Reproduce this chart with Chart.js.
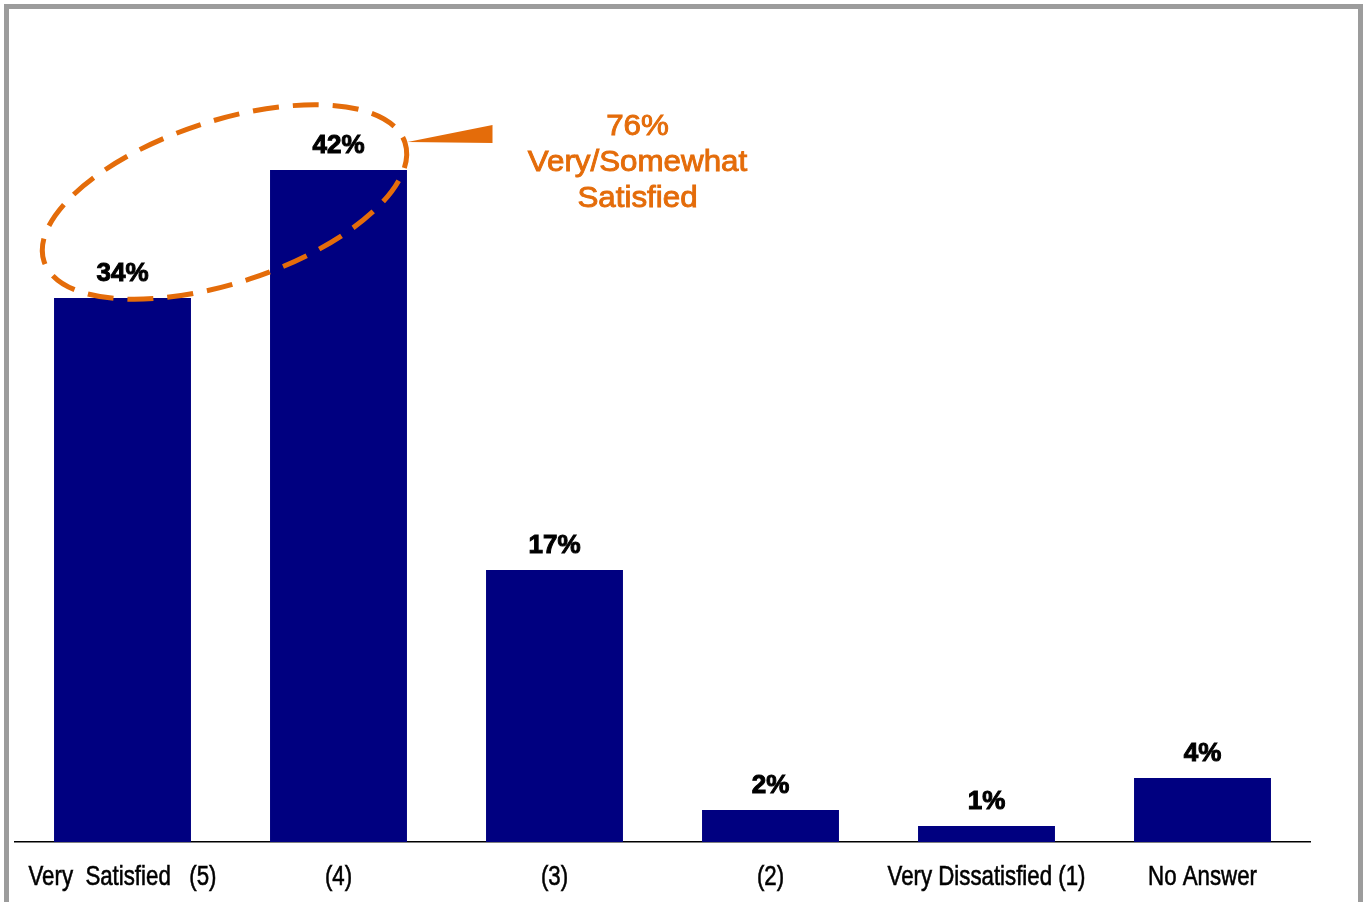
<!DOCTYPE html>
<html>
<head>
<meta charset="utf-8">
<script src="https://cdn.jsdelivr.net/npm/chart.js@4/dist/chart.umd.min.js"></script>
<style>
  html, body { margin: 0; padding: 0; background: #fff; overflow: hidden; }
  #frame {
    position: absolute; left: 4px; top: 4px; width: 1349px; height: 920px;
    border: 5px solid #9c9c9c; box-sizing: content-box;
  }
  #wrap { position: absolute; left: 0; top: 0; width: 1366px; height: 902px; }
</style>
</head>
<body>
<div id="frame"></div>
<div id="wrap"><canvas id="c" width="1366" height="902"></canvas></div>
<script>
// Satisfaction ratings, share of respondents (%)
const categories = ['Very  Satisfied   (5)', '(4)', '(3)', '(2)', 'Very Dissatisfied (1)', 'No Answer'];
const percentages = [34, 42, 17, 2, 1, 4];
const valueLabels = ['34%', '42%', '17%', '2%', '1%', '4%'];
const calloutLines = ['76%', 'Very/Somewhat', 'Satisfied'];

const NAVY = '#000080';
const ORANGE = '#E46C0A';

// Bar value labels above each bar
const valueLabelPlugin = {
  id: 'valueLabels',
  afterDatasetsDraw(chart) {
    const ctx = chart.ctx;
    const meta = chart.getDatasetMeta(0);
    ctx.save();
    ctx.font = 'bold 26px "Liberation Sans", Arial, sans-serif';
    ctx.fillStyle = '#000';
    ctx.strokeStyle = '#000';
    ctx.lineWidth = 1;
    ctx.textAlign = 'center';
    ctx.textBaseline = 'alphabetic';
    meta.data.forEach((bar, i) => {
      ctx.fillText(valueLabels[i], bar.x, bar.y - 17);
      ctx.strokeText(valueLabels[i], bar.x, bar.y - 17);
    });
    ctx.restore();
  }
};

// Condensed category labels under the axis
const categoryLabelPlugin = {
  id: 'categoryLabels',
  afterDraw(chart) {
    const ctx = chart.ctx;
    const xs = chart.scales.x;
    const squeeze = 0.795;
    ctx.save();
    ctx.font = '28px "Liberation Sans", Arial, sans-serif';
    ctx.fillStyle = '#000';
    ctx.strokeStyle = '#000';
    ctx.lineWidth = 0.6;
    ctx.textAlign = 'center';
    ctx.textBaseline = 'middle';
    categories.forEach((label, i) => {
      const x = xs.getPixelForValue(i);
      ctx.save();
      ctx.translate(x, xs.bottom - 25);
      ctx.scale(squeeze, 1);
      ctx.fillText(label, 0, 0);
      ctx.strokeText(label, 0, 0);
      ctx.restore();
    });
    ctx.restore();
  }
};

// Dashed ellipse around the two top ratings with a pointer to the summary text
const calloutPlugin = {
  id: 'callout',
  afterDraw(chart) {
    const ctx = chart.ctx;
    const xs = chart.scales.x, ys = chart.scales.y;
    const x0 = xs.getPixelForValue(0), x1 = xs.getPixelForValue(1);
    const y0 = ys.getPixelForValue(percentages[0]), y1 = ys.getPixelForValue(percentages[1]);
    const cx = (x0 + x1) / 2 - 6;
    const cy = (y0 + y1) / 2 - 32;
    ctx.save();
    ctx.strokeStyle = ORANGE;
    ctx.lineWidth = 5;
    ctx.setLineDash([26, 14]);
    ctx.beginPath();
    ctx.ellipse(cx, cy, 190, 81, -18.25 * Math.PI / 180, 0, Math.PI * 2);
    ctx.stroke();
    ctx.setLineDash([]);

    // wedge pointing from the ellipse to the text
    const tipX = x1 + 69, tipY = y1 - 28;
    ctx.fillStyle = ORANGE;
    ctx.beginPath();
    ctx.moveTo(tipX, tipY);
    ctx.lineTo(tipX + 85, tipY - 17);
    ctx.lineTo(tipX + 85, tipY + 1);
    ctx.closePath();
    ctx.fill();

    // summary text
    const tx = (x1 + xs.getPixelForValue(2)) / 2 + 191;
    ctx.font = '29px "Liberation Sans", Arial, sans-serif';
    ctx.strokeStyle = ORANGE;
    ctx.lineWidth = 0.9;
    ctx.textAlign = 'center';
    ctx.textBaseline = 'middle';
    calloutLines.forEach((line, i) => {
      const ty = y1 - 43 + i * 36;
      ctx.save();
      ctx.translate(tx, ty);
      ctx.scale(1.08, 1);
      ctx.fillText(line, 0, 0);
      ctx.strokeText(line, 0, 0);
      ctx.restore();
    });
    ctx.restore();
  }
};

new Chart(document.getElementById('c'), {
  type: 'bar',
  data: {
    labels: categories,
    datasets: [{
      data: percentages,
      backgroundColor: NAVY,
      borderWidth: 0,
      categoryPercentage: 1,
      barPercentage: 0.634
    }]
  },
  options: {
    responsive: false,
    animation: false,
    devicePixelRatio: 1,
    layout: { padding: { left: 14.5, right: 55.5, top: 42, bottom: 0 } },
    plugins: { legend: { display: false }, tooltip: { enabled: false } },
    scales: {
      x: {
        grid: { display: false, drawTicks: false },
        border: { display: true, color: '#000', width: 1.5 },
        ticks: { display: false },
        afterFit(scale) {
          scale.height = 60;
          scale.paddingLeft = 0;
          scale.paddingRight = 0;
        }
      },
      y: {
        display: false,
        min: 0,
        max: 50
      }
    }
  },
  plugins: [valueLabelPlugin, categoryLabelPlugin, calloutPlugin]
});
</script>
</body>
</html>
